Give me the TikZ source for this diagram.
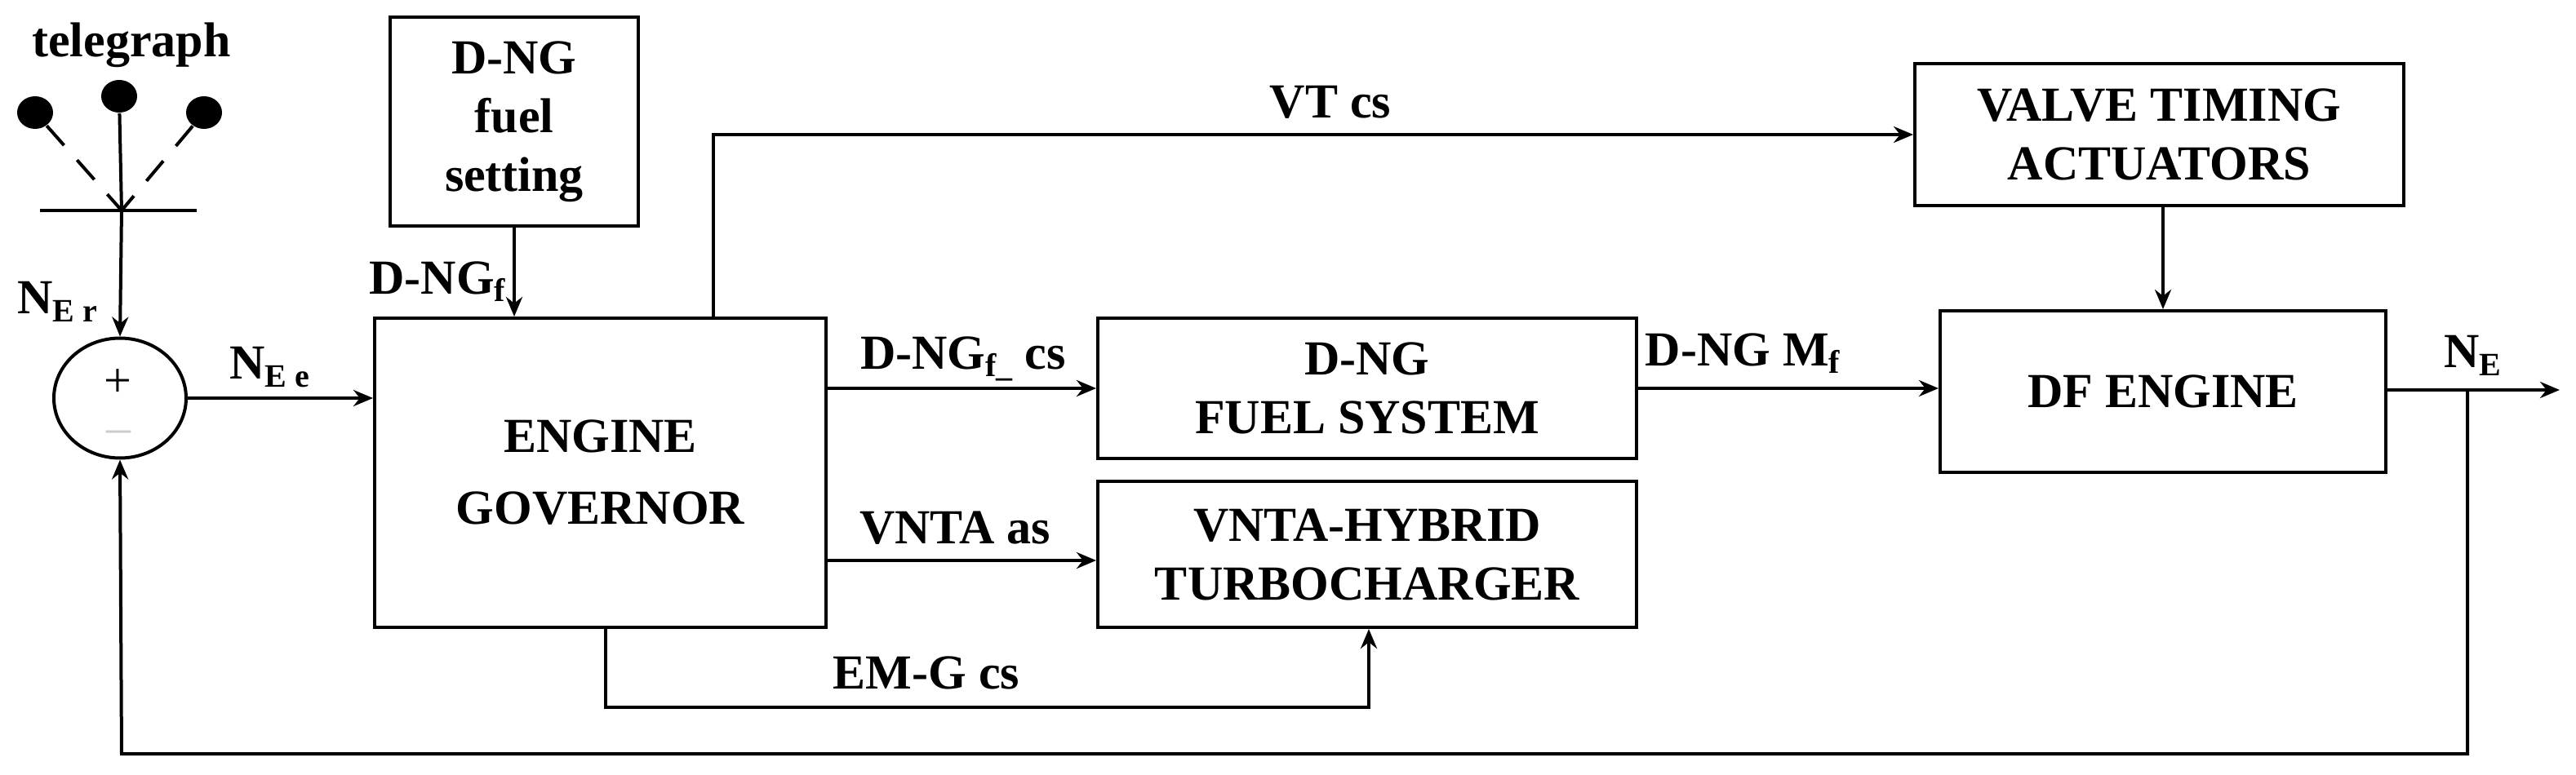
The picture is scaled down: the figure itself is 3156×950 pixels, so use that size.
\documentclass[tikz,border=0pt]{standalone}
\usepackage{fontspec}
\setmainfont{Liberation Serif}
\usetikzlibrary{arrows.meta,shapes.geometric}
\newcommand{\sbs}[1]{\raisebox{-0.35ex}{\fontsize{10}{10}\selectfont #1}}
\begin{document}
\begin{tikzpicture}[x=0.25pt,y=-0.25pt,
  blk/.style={draw,line width=1pt,align=center,font=\fontsize{15}{18}\selectfont\bfseries,inner sep=0pt},
  lab/.style={font=\fontsize{15}{18}\selectfont\bfseries,inner sep=0pt},
  con/.style={line width=1pt},
  arr/.style={con,-{Stealth[length=6pt,width=5pt]}}]
\useasboundingbox (0,0) rectangle (3156,950);
% blocks
\node[blk,minimum width=76pt,minimum height=64pt] (set) at (630,149) {D-NG\\fuel\\setting};
\node[blk,minimum width=138.25pt,minimum height=94.75pt] (gov) at (735.5,579.5) {ENGINE\\[4pt]GOVERNOR};
\node[blk,minimum width=165pt,minimum height=43pt] (fuel) at (1675,476) {D-NG\\FUEL SYSTEM};
\node[blk,minimum width=165pt,minimum height=44.75pt] (vnta) at (1675,679.5) {VNTA-HYBRID\\TURBOCHARGER};
\node[blk,minimum width=149.75pt,minimum height=43.5pt] (valve) at (2645.5,165) {VALVE TIMING\\ACTUATORS};
\node[blk,minimum width=136.5pt,minimum height=49.5pt] (df) at (2650,480) {DF ENGINE};
\node[draw,ellipse,line width=1pt,minimum width=40.5pt,minimum height=36.75pt,inner sep=0pt] (sum) at (147,488) {};
\node[inner sep=0pt,font=\fontsize{15}{15}\selectfont] (plus) at (144,470) {+};
\node[inner sep=0pt,text=gray!40,font=\fontsize{15}{15}\selectfont] (minus) at (145,536) {--};
% telegraph
\node[lab] (tel) at (161,55) {telegraph};
\node[fill,ellipse,minimum width=11pt,minimum height=10pt,inner sep=0pt] (b1) at (43,138) {};
\node[fill,ellipse,minimum width=11pt,minimum height=10pt,inner sep=0pt] (b2) at (146,118) {};
\node[fill,ellipse,minimum width=11pt,minimum height=10pt,inner sep=0pt] (b3) at (250,138) {};
\coordinate (tb) at (149,258);
\coordinate (tbl) at (49,258);
\coordinate (tbr) at (241,258);
\draw[con] (tbl) -- (tbr);
\draw[con,dash pattern=on 8pt off 6pt] (b1) -- (tb);
\draw[con,dash pattern=on 8pt off 6pt] (b3) -- (tb);
\draw[con] (b2) -- (tb);
\draw[arr] (tb) -- (sum.north);
% connectors
\draw[arr] (set.south) -- (set.south |- gov.north);
\draw[arr] (sum.east) -- (sum.east -| gov.west);
\coordinate (vt) at (874,168);
\draw[arr] (gov.north -| vt) |- (valve.west);
\draw[arr] (gov.east |- fuel.west) -- (fuel.west);
\coordinate (va) at (1345,687);
\draw[arr] (gov.east |- va) -- (vnta.west |- va);
\coordinate (em1) at (742,867);
\coordinate (em2) at (1677,867);
\draw[arr] (gov.south -| em1) -- (em1) -- (em2) -- (vnta.south -| em2);
\draw[arr] (fuel.east) -- (fuel.east -| df.west);
\draw[arr] (valve.south -| df.north) -- (df.north);
\coordinate (out) at (3136,478);
\coordinate (br) at (3023,478);
\coordinate (fb1) at (3023,924);
\coordinate (fb2) at (149,924);
\draw[arr] (df.east |- out) -- (out);
\draw[arr] (br) -- (fb1) -- (fb2) -- (sum.south);
% labels
\node[lab] (lr) at (70,370) {N\sbs{E r}};
\node[lab] (le) at (330,450) {N\sbs{E e}};
\node[lab,anchor=east] (lf) at (620,345) {D-NG\sbs{f}};
\node[lab] (lvt) at (1630,125) {VT cs};
\node[lab] (lfc) at (1180,440) {D-NG\sbs{f\_} cs};
\node[lab] (lva) at (1170,647) {VNTA as};
\node[lab] (lem) at (1135,825) {EM-G cs};
\node[lab] (lmf) at (2135,433) {D-NG M\sbs{f}};
\node[lab] (lne) at (3029,436) {N\sbs{E}};
\end{tikzpicture}
\end{document}
